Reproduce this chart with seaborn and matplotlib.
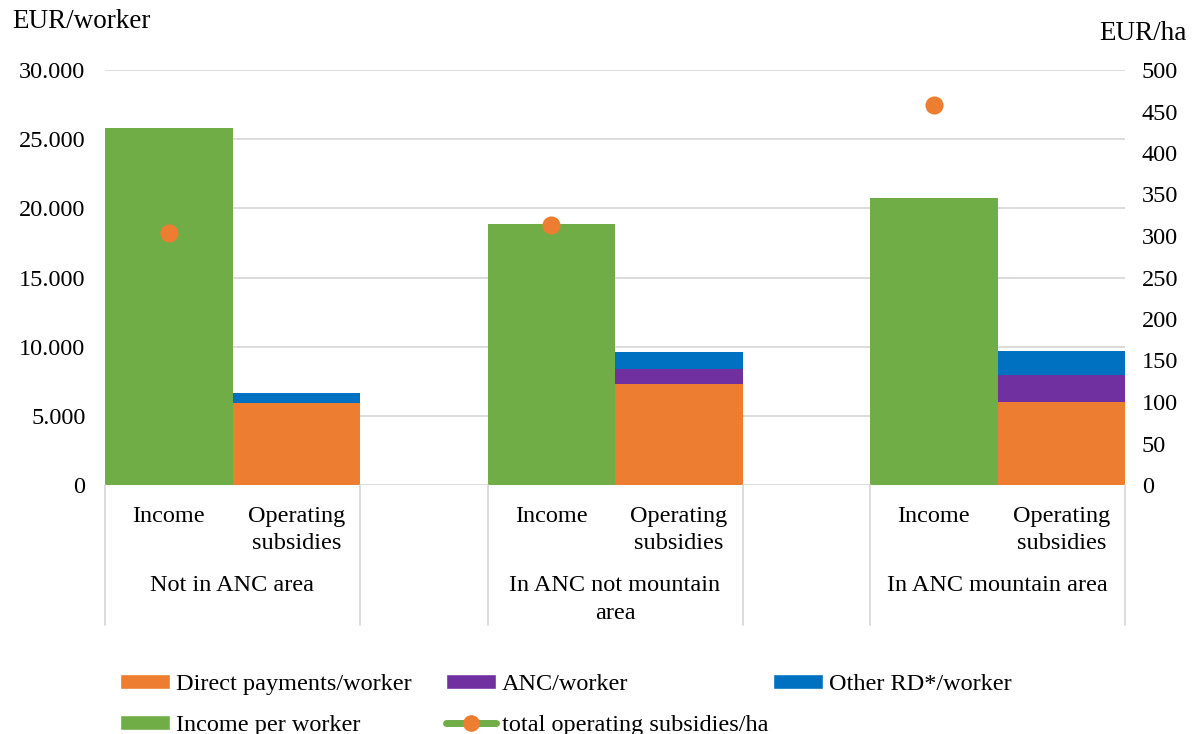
import numpy as np
import pandas as pd
import matplotlib.pyplot as plt
import matplotlib.transforms as mtransforms
from matplotlib.patches import Patch
from matplotlib.lines import Line2D
import seaborn as sns

### data
groups = ["Not in ANC area", "In ANC not mountain\narea", "In ANC mountain area"]
bar_names = ["Income", "Operating\nsubsidies"]
income = [25800, 18850, 20750]
direct_payments = [5930, 7300, 6020]
anc = [0, 1060, 1950]
other_rd = [720, 1280, 1710]
subsidies_ha = [304, 313, 458]

left_ticks = [0, 5000, 10000, 15000, 20000, 25000, 30000]
right_ticks = list(range(0, 501, 50))

GREEN = "#70AD47"
ORANGE = "#ED7D31"
PURPLE = "#7030A0"
BLUE = "#0070C0"
GRID = "#D9D9D9"
FS = 17.5

sns.set_style("white")
plt.rcParams["font.family"] = ["Liberation Serif", "DejaVu Serif"]
plt.rcParams["text.color"] = "black"
plt.rcParams["ytick.color"] = "black"
plt.rcParams["ytick.labelcolor"] = "black"

df = pd.DataFrame({
    "group": groups,
    "income": income,
    "dp": direct_payments,
    "anc": anc,
    "other": other_rd,
    "per_ha": subsidies_ha,
})
df["inc_slot"] = [f"{g}|inc" for g in groups]
df["sub_slot"] = [f"{g}|sub" for g in groups]
df["dp_anc"] = df["dp"] + df["anc"]
df["total"] = df["dp_anc"] + df["other"]

# 8 slots: income, subsidies, empty gap, ...
order = []
for i, g in enumerate(groups):
    order += [f"{g}|inc", f"{g}|sub"]
    if i < len(groups) - 1:
        order.append(f"gap{i}")

fig = plt.figure(figsize=(11.92, 7.34), dpi=100)
ax = fig.add_axes([105 / 1192, 1 - 485 / 734, 1020 / 1192, 415 / 734])

bar_kw = dict(order=order, width=1, saturation=1, errorbar=None, linewidth=0, ax=ax)
sns.barplot(x=df["inc_slot"], y=df["income"], color=GREEN, **bar_kw)
# stacked bars drawn as overlapping cumulative totals
sns.barplot(x=df["sub_slot"], y=df["total"], color=BLUE, **bar_kw)
sns.barplot(x=df["sub_slot"], y=df["dp_anc"], color=PURPLE, **bar_kw)
sns.barplot(x=df["sub_slot"], y=df["dp"], color=ORANGE, **bar_kw)

ax.set_xlabel("")
ax.set_ylabel("")
ax.set_ylim(0, 30000)
ax.set_yticks(left_ticks)
ax.set_yticklabels([f"{v:,.0f}".replace(",", ".") for v in left_ticks])
ax.tick_params(axis="y", length=0, pad=14, labelsize=FS, labelcolor="black")
ax.set_xticks([])
ax.yaxis.grid(True, color=GRID, lw=1.3)
ax.set_axisbelow(True)
for s in ax.spines.values():
    s.set_visible(False)

### multi-level category labels
trans = mtransforms.blended_transform_factory(ax.transData, ax.transAxes)
for g in groups:
    p_inc = order.index(f"{g}|inc")
    p_sub = order.index(f"{g}|sub")
    ax.text(p_inc, -0.05, bar_names[0], ha="center", va="top",
            transform=trans, fontsize=FS, linespacing=1.38)
    ax.text(p_sub, -0.05, bar_names[1], ha="center", va="top",
            transform=trans, fontsize=FS, linespacing=1.38)
    ax.text((p_inc + p_sub) / 2, -0.218, g, ha="center", va="top",
            transform=trans, fontsize=FS, linespacing=1.4)
    for xs in (p_inc - 0.5, p_sub + 0.5):
        ax.plot([xs, xs], [0, -0.337], transform=trans, color=GRID,
                lw=1.3, clip_on=False)

### right axis: subsidies per ha
ax2 = ax.twinx()
xpos = [order.index(s) for s in df["inc_slot"]]
sns.scatterplot(x=xpos, y=df["per_ha"], ax=ax2, color=ORANGE, s=170,
                edgecolor=ORANGE, linewidth=0, zorder=5, legend=False)
ax2.set_ylabel("")
ax2.set_ylim(0, 500)
ax2.set_yticks(right_ticks)
ax2.tick_params(axis="y", length=0, pad=12, labelsize=FS, labelcolor="black")
for s in ax2.spines.values():
    s.set_visible(False)
ax.set_xlim(-0.5, len(order) - 0.5)

fig.text(12 / 1192, 1 - 22 / 734, "EUR/worker", va="center", ha="left", fontsize=19.5)
fig.text(1187 / 1192, 1 - 33 / 734, "EUR/ha", va="center", ha="right", fontsize=19.5)

### legend: three equal-width columns like the original
h_dp = Patch(facecolor=ORANGE, label="Direct payments/worker")
h_anc = Patch(facecolor=PURPLE, label="ANC/worker")
h_oth = Patch(facecolor=BLUE, label="Other RD*/worker")
h_inc = Patch(facecolor=GREEN, label="Income per worker")
h_tot = Line2D([], [], color=GREEN, lw=5, marker="o", markersize=11,
               markerfacecolor=ORANGE, markeredgecolor=ORANGE,
               label="total operating subsidies/ha")
leg_kw = dict(loc="upper left", frameon=False, fontsize=FS, handlelength=2.05,
              handleheight=0.6, handletextpad=0.25, labelspacing=0.8,
              borderpad=0, borderaxespad=0)
for col_x, hs in [(120, [h_dp, h_inc]), (446, [h_anc, h_tot]), (773, [h_oth])]:
    fig.legend(handles=hs, bbox_to_anchor=(col_x / 1192, 1 - 674 / 734), **leg_kw)

fig.savefig("out.png", dpi=100)
